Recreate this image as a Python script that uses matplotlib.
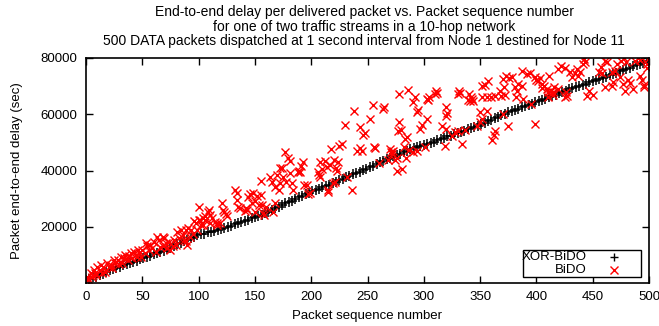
import matplotlib
matplotlib.use("Agg")
import matplotlib.pyplot as plt
from matplotlib.patches import Rectangle

plt.rcParams['font.family'] = ['Liberation Sans', 'DejaVu Sans']

# XOR-BiDO: end-to-end delay (sec) of every third delivered packet
xor_seq = list(range(0, 499, 3))
xor_delay = [
    1000, 1400, 2000, 2300, 3000, 3300, 4000, 4500, 4900, 5400,
    5800, 6300, 6600, 7200, 7600, 8000, 8500, 8900,
    9400, 9700, 10300, 10600, 11200, 11500, 12000, 12500,
    13000, 13700, 14100, 14800, 15200, 15900, 16400, 16900,
    17300, 17500, 18000, 18300, 18600, 19000, 19300, 19600, 20000,
    20400, 20900, 21300, 21600, 22200, 22500, 23000, 23400, 23900, 24300,
    24900, 25400, 26100, 26700, 27200, 27900,
    28300, 28900, 29300, 29700, 30500, 31000, 31600, 32100,
    32600, 33000, 33500, 34000, 34400, 34900,
    35400, 35900, 36500, 37000, 37600, 38200,
    38600, 39200, 39600, 40100, 40700, 41100,
    41700, 42300, 42900, 43400, 44000, 44600,
    45000, 45600, 46000, 46600, 47000, 47500,
    47900, 48300, 48600, 49000,
    49400, 49900, 50200, 50700, 51100, 51600,
    52100, 52400, 53000, 53500, 53800, 54200, 54600, 55000, 55400,
    55900, 56500, 57000, 57500, 58000, 58600, 59100, 59600, 60200, 60700,
    61100, 61600, 62000, 62400, 62900, 63300, 63700, 64200,
    64600, 65100, 65500, 66000, 66500, 67000, 67400, 67900, 68400, 68800, 69300,
    69700, 70100, 70500, 70900, 71300, 71700, 72100, 72500, 72900,
    73400, 73800, 74300, 74700, 75200, 75600, 76100, 76500, 77000, 77400,
    77900, 78300, 78800,
]

# BiDO: packet sequence numbers and their end-to-end delay (sec)
bido_seq = [
    0, 1, 2, 4, 5, 6, 7, 8, 9, 10, 12, 13, 14, 16, 17, 19, 20, 22, 23, 25,
    26, 28, 29, 31, 32, 34, 35, 37, 38, 40, 41, 43, 44, 45, 46, 47, 49, 50,
    52, 53, 54, 56, 57, 59, 60, 62, 63, 65, 66, 68, 68, 69, 71, 72, 74, 75,
    77, 78, 80, 81, 83, 84, 86, 87, 89, 89, 90, 91, 92, 93, 95, 96, 98, 99,
    100, 100, 101, 102, 104, 104, 106, 106, 108, 109, 110, 110, 112, 115,
    116, 116, 119, 121, 122, 123, 124, 125, 132, 134, 134, 135, 137, 141,
    142, 143, 144, 146, 147, 148, 150, 150, 152, 154, 155, 155, 156, 157,
    158, 160, 163, 165, 166, 168, 168, 170, 171, 172, 172, 174, 175, 177,
    178, 179, 181, 181, 183, 184, 188, 189, 190, 191, 193, 194, 196, 197,
    199,
    206, 207, 208, 208, 210, 212, 214, 215, 215, 217, 218, 219, 220, 221,
    222, 223, 224, 225, 227, 230, 232, 236, 238, 241, 243, 243, 245, 246,
    248, 252, 255, 256, 257, 260, 264, 265, 268, 270, 271, 272, 273, 274,
    276, 276, 277, 278, 278, 280, 281, 282, 283, 284, 285, 286, 287, 290,
    290, 292, 294, 294, 295, 297, 298,
    301, 303, 303, 304, 305, 310, 311, 312, 316, 319, 320, 320, 320, 321,
    325, 328, 330, 330, 331, 332, 334, 337, 339, 340, 341, 342, 343, 344,
    347, 350, 350, 352, 352, 352, 354, 356, 356, 357, 360, 361, 362, 363,
    363, 368, 369, 370, 370, 371, 372, 373, 375, 376, 378, 381, 382, 383,
    384, 387, 387, 388, 392, 394, 395, 399, 399,
    400, 401, 403, 405, 405, 407, 409, 410, 410, 411, 413, 415, 415, 416,
    419, 419, 422, 425, 425, 426, 427, 430, 432, 434, 436, 437, 439, 441,
    442, 443, 445, 447, 450, 456, 457, 458, 461, 461, 463, 467, 467, 468,
    470, 472, 474, 475, 477, 478, 479, 480, 481, 483, 486, 488, 490, 492,
    492, 494, 494, 496, 496, 498, 498, 499,
]
bido_delay = [
    900, 2250, 1600, 3460, 2000, 2860, 4640, 3500, 3000, 5820, 4640, 6430,
    3400, 5240, 4000, 7030, 5600, 6430, 5200, 8210, 7030, 8210, 6800, 9400,
    7000, 8810, 10000, 8210, 9700, 10600, 8800, 11200, 10000, 9300, 11800,
    10600, 9400, 11800, 10600, 14200, 13000, 11800, 13600, 12400, 14500,
    11200, 16500, 15400, 12800, 16500, 13000, 16000, 14200, 12400, 14500,
    11800, 13000, 15200, 13600, 18300, 16000, 18900, 17100, 15400, 18900,
    14800, 13600, 19500, 16400, 18900, 17500, 21900, 21300, 18900,
    27200, 22500, 22500, 20700, 20700, 23200, 23700, 22500, 25300, 26100,
    24300, 21300, 23100, 21800, 20700, 21400, 21300, 28500, 26100, 25300,
    24500, 23700, 33200, 32000, 29600, 27200, 26800, 25500, 26700, 26000,
    30700, 31500, 28500, 32100, 29000, 25300, 30800, 27900, 36200, 31200,
    27900, 25000, 24300, 27200, 37800, 36000, 25300, 28500, 34300, 38500,
    33200, 41000, 35600, 40900, 37800, 46500, 36000, 44300, 43500, 39000,
    35600, 33200, 39600, 39700, 39300, 41500, 42900, 35000, 35000, 31500,
    32000,
    39300, 38500, 37800, 42900, 40500, 43500, 41300, 32900, 32500, 42000,
    47500, 35700, 43900, 36000, 41000, 39800, 43000, 48800, 49300, 56100,
    37800, 33200, 61000, 46800, 55400, 47900, 47000, 52500, 53200, 58200,
    63200, 48200, 48000, 42500, 62000, 62500, 43900, 47500, 46400, 46000,
    47000, 43600, 44600, 40000, 53900, 57100, 67100, 54300, 40400, 48200,
    51100, 44600, 51800, 68600, 47200, 64300, 46400, 66100, 60700, 47100,
    61400, 54600, 56100,
    48200, 65300, 58200, 65000, 66100, 67100, 68200, 67500, 55700, 48600,
    59300, 54600, 62500, 60500, 52100, 53600, 67100, 53900, 68200, 67600,
    49300, 54500, 65000, 67100, 64600, 66000, 65500, 64800, 55700, 57100,
    60700, 70000, 58200, 66000, 70500, 61100, 66300, 71800, 66100, 51000,
    52500, 53900, 66400, 68200, 66400, 72500, 60000, 69600, 67000, 73500,
    55700, 72800, 73200, 69600, 66000, 68200, 70700, 70000, 75300, 65300,
    74300, 74800, 63500, 73200, 56400,
    72000, 71800, 73000, 70700, 69500, 70000, 68900, 67800, 66000, 73500,
    68200, 68000, 66800, 69600, 68900, 76100, 77100, 76500, 66000, 67800,
    66500, 75000, 73200, 74500, 76100, 73500, 75000, 78000, 79600, 78500,
    66400, 68200, 67000, 75000, 76800, 74500, 79000, 69600, 78500, 75000,
    70000, 71400, 75300, 78000, 73200, 79000, 70700, 80000, 68200, 78500,
    72000, 71000, 69000, 79000, 80000, 79300, 73500, 80000, 72000, 69600,
    70500, 78000, 76500, 79500,
]

x_ticks = list(range(0, 501, 50))
y_ticks = [20000, 40000, 60000, 80000]

title_lines = [
    "End-to-end delay per delivered packet vs. Packet sequence number",
    "for one of two traffic streams in a 10-hop network",
    "500 DATA packets dispatched at 1 second interval from Node 1 destined for Node 11",
]

FS = 9.5
fig = plt.figure(figsize=(6.59, 3.26), dpi=100)
ax = fig.add_axes([86 / 659, 43 / 326, 563 / 659, 225 / 326])

ax.plot(xor_seq, xor_delay, linestyle='none', marker='+', markersize=7,
        markeredgewidth=1.1, color='black', label='XOR-BiDO')
ax.plot(bido_seq, bido_delay, linestyle='none', marker='x', markersize=5.5,
        markeredgewidth=1.0, color='#ff0000', label='BiDO')

ax.set_xlim(0, 500)
ax.set_ylim(0, 80000)
ax.set_xticks(x_ticks)
ax.set_yticks(y_ticks)
ax.tick_params(direction='in', length=5, width=1, top=True, right=True,
               labelsize=FS, pad=6, colors='black')
for sp in ax.spines.values():
    sp.set_linewidth(1.2)
    sp.set_color('black')

ax.set_xlabel("Packet sequence number", fontsize=FS, labelpad=5)
ax.set_ylabel("Packet end-to-end delay (sec)", fontsize=FS, labelpad=13)

fig.text(364 / 659, 1 - 5 / 326, "\n".join(title_lines), ha='center',
         va='top', fontsize=10, linespacing=1.05)

# gnuplot-style key: framed box, right-justified labels, sample after text
ax.add_patch(Rectangle((0.776, 0.027), 0.21, 0.12, transform=ax.transAxes,
                       fill=True, facecolor='white', edgecolor='black',
                       linewidth=1.0, zorder=5))
for yk, label, mk, col in [(0.116, 'XOR-BiDO', '+', 'black'),
                           (0.058, 'BiDO', 'x', '#ff0000')]:
    ax.text(0.890, yk, label, transform=ax.transAxes, ha='right',
            va='center', fontsize=FS, zorder=6)
    ax.plot([0.938], [yk], transform=ax.transAxes, marker=mk,
            markersize=6 if mk == '+' else 5.5, markeredgewidth=1.0,
            color=col, linestyle='none', zorder=6, clip_on=False)

fig.savefig("out.png", dpi=100)
